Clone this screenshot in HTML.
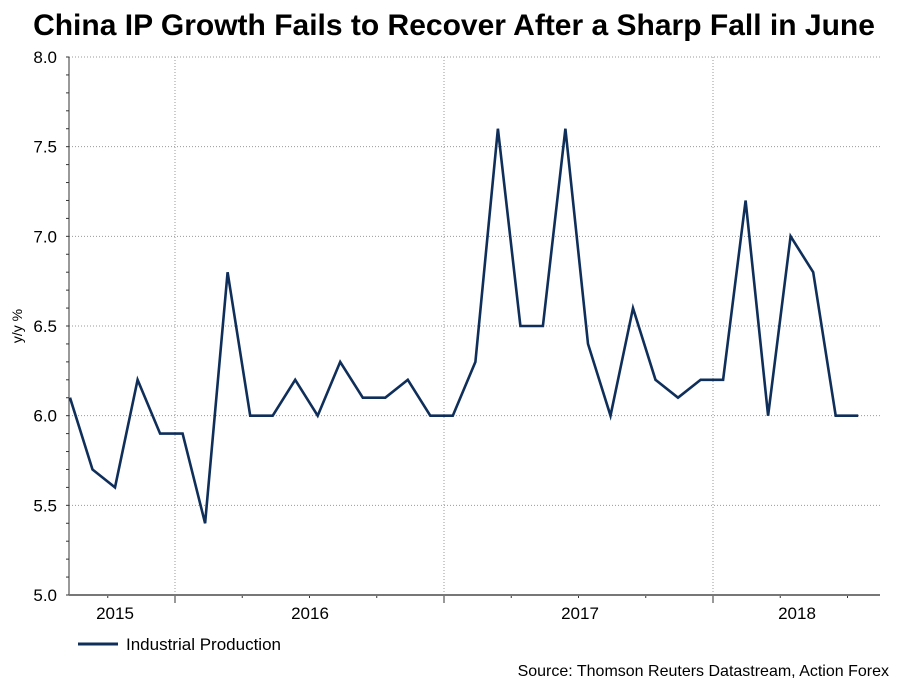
<!DOCTYPE html>
<html><head><meta charset="utf-8"><style>
body{margin:0;background:#fff;font-family:"Liberation Sans",Arial,sans-serif}
svg text{font-family:"Liberation Sans",Arial,sans-serif}
</style></head><body>
<svg id="chart" width="909" height="682" xmlns="http://www.w3.org/2000/svg">
<text x="454" y="35" text-anchor="middle" font-size="30" font-weight="bold" fill="#000">China IP Growth Fails to Recover After a Sharp Fall in June</text>
<g id="grid"></g>
<g id="axes"></g>
<path id="line" fill="none" stroke="#0f2f5a" stroke-width="2.6" stroke-linejoin="miter"/>
<text transform="translate(22,326) rotate(-90)" text-anchor="middle" font-size="14">y/y %</text>
<line x1="78" y1="644" x2="118" y2="644" stroke="#0f2f5a" stroke-width="3"/>
<text x="126" y="650" font-size="17">Industrial Production</text>
<text x="889" y="676" text-anchor="end" font-size="16">Source: Thomson Reuters Datastream, Action Forex</text>
</svg>
<script>
const values=[6.1,5.7,5.6,6.2,5.9,5.9,5.4,6.8,6.0,6.0,6.2,6.0,6.3,6.1,6.1,6.2,6.0,6.0,6.3,7.6,6.5,6.5,7.6,6.4,6.0,6.6,6.2,6.1,6.2,6.2,7.2,6.0,7.0,6.8,6.0,6.0];
const yTicks=[5.0,5.5,6.0,6.5,7.0,7.5,8.0];
const yearLabels=["2015","2016","2017","2018"];
const X0=70,STEP=22.52,L=69,R=880,T=57,B=595;
const xs=i=>X0+i*STEP;
const ys=v=>B-(v-5)/3*(B-T);
const NS="http://www.w3.org/2000/svg";
const grid=document.getElementById('grid'),axes=document.getElementById('axes');
function mk(tag,attrs,parent){const e=document.createElementNS(NS,tag);for(const k in attrs)e.setAttribute(k,attrs[k]);parent.appendChild(e);return e;}
yTicks.forEach(v=>{
  const y=ys(v);
  if(v>5){const g=mk('line',{x1:L,x2:R,y1:y,y2:y,stroke:'#999','stroke-dasharray':'1,2'},grid);
  
  }
  const t=mk('text',{x:L-12,y:y+6,'text-anchor':'end','font-size':'17'},axes);t.textContent=v.toFixed(1);
  
  
});
for(let v=5;v<=8.001;v+=0.1){const y=ys(v);mk('line',{x1:L-3,x2:L,y1:y,y2:y,stroke:'#333'},axes);}
const yb=[175,444,713];
yb.forEach(x=>{const g=mk('line',{x1:x,x2:x,y1:T,y2:B,stroke:'#999','stroke-dasharray':'1,2'},grid);


mk('line',{x1:x,x2:x,y1:B,y2:B+8,stroke:'#333'},axes);});
for(let x=175-67.25;x<R;x+=67.25){mk('line',{x1:x,x2:x,y1:B,y2:B+3,stroke:'#333'},axes);}
const lx=[115,310,580,797];
yearLabels.forEach((s,i)=>{const t=mk('text',{x:lx[i],y:619,'text-anchor':'middle','font-size':'17'},axes);t.textContent=s;

});
mk('line',{x1:L,x2:L,y1:T,y2:B,stroke:'#333'},axes);
mk('line',{x1:L,x2:R,y1:B,y2:B,stroke:'#777','stroke-width':2},axes);
document.getElementById('line').setAttribute('d',values.map((v,i)=>(i?'L':'M')+xs(i).toFixed(1)+','+ys(v).toFixed(1)).join(' '));
</script>
</body></html>
